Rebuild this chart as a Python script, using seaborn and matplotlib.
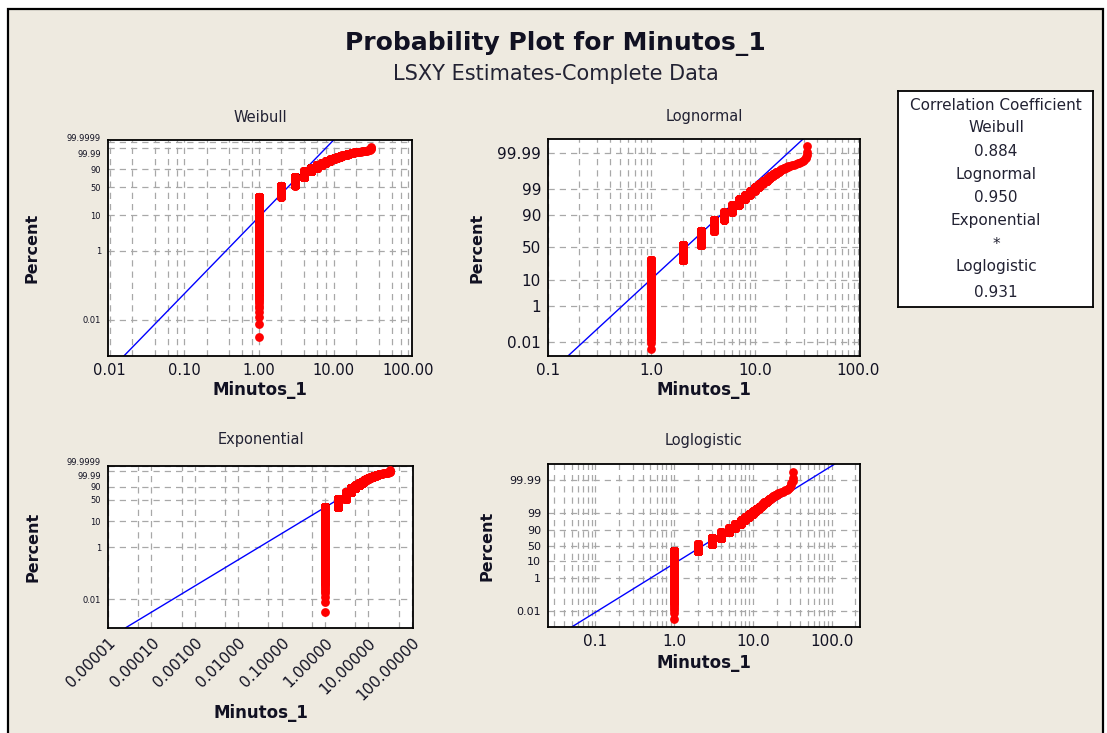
import math
import numpy as np
import pandas as pd
import seaborn as sns
import matplotlib.pyplot as plt
from matplotlib.patches import Rectangle
from matplotlib.transforms import ScaledTranslation
from matplotlib.ticker import FixedLocator, FixedFormatter, LogLocator, NullLocator

# Minutos_1: distinct values and how often each one occurs
minutes = [1, 2, 3, 4, 5, 6, 7, 8, 9, 10, 11, 12, 13, 14, 15, 16,
           17, 18, 19, 20, 21, 22, 23, 24, 25, 26, 27, 28, 29, 30, 31, 32]
counts = [6820, 5060, 4510, 2640, 1210, 770, 374, 220, 132, 88, 55, 33, 24, 18, 11, 9,
          5, 5, 3, 2, 2, 1, 1, 1, 1, 1, 1, 1, 1, 1, 2, 3]

# text of the correlation box
box_lines = ["Correlation Coefficient", "Weibull", "0.884", "Lognormal", "0.950",
             "Exponential", "*", "Loglogistic", "0.931"]

# LSXY fitted lines, read where they meet the frame (Minutos_1, Percent)
weibull_fit_x = [0.0155, 10.0]
weibull_fit_pct = [0.0009, 99.99999]
lognormal_fit_x = [0.156, 29.3]
lognormal_fit_pct = [0.0009, 99.9991]
expo_fit_x = [2.5e-5, 38.0]
expo_fit_pct = [0.00077, 99.99994]
loglog_fit_x = [0.05, 110.0]
loglog_fit_pct = [0.0011, 99.9989]

# tick values and labels
weibull_xticks = [0.01, 0.1, 1, 10, 100]
weibull_xlabels = ["0.01", "0.10", "1.00", "10.00", "100.00"]
weibull_yticks = [0.01, 1, 10, 50, 90, 99.99, 99.9999]
weibull_ylabels = ["0.01", "1", "10", "50", "90", "99.99", "99.9999"]
lognormal_xticks = [0.1, 1, 10, 100]
lognormal_xlabels = ["0.1", "1.0", "10.0", "100.0"]
lognormal_yticks = [0.01, 1, 10, 50, 90, 99, 99.99]
lognormal_ylabels = ["0.01", "1", "10", "50", "90", "99", "99.99"]
expo_xticks = [1e-5, 1e-4, 1e-3, 1e-2, 1e-1, 1, 10, 100]
expo_xlabels = ["0.00001", "0.00010", "0.00100", "0.01000", "0.10000",
                "1.00000", "10.00000", "100.00000"]


# probability scales (input is percent)
def weib_fwd(q):
    p = np.clip(np.asarray(q, float) / 100, 1e-15, 1 - 1e-15)
    return np.log(-np.log1p(-p))


def weib_inv(y):
    return -100 * np.expm1(-np.exp(np.asarray(y, float)))


def logit_fwd(q):
    p = np.clip(np.asarray(q, float) / 100, 1e-15, 1 - 1e-15)
    return np.log(p) - np.log1p(-p)


def logit_inv(y):
    return 100 / (1 + np.exp(-np.asarray(y, float)))


A = [-3.969683028665376e+01, 2.209460984245205e+02, -2.759285104469687e+02,
     1.383577518672690e+02, -3.066479806614716e+01, 2.506628277459239e+00]
B = [-5.447609879822406e+01, 1.615858368580409e+02, -1.556989798598866e+02,
     6.680131188771972e+01, -1.328068155288572e+01, 1.0]
C = [-7.784894002430293e-03, -3.223964580411365e-01, -2.400758237182477e+00,
     -2.549671058064155e+00, 4.374664141464968e+00, 2.938163982698783e+00]
D = [7.784695709041462e-03, 3.224671290700398e-01, 2.445134137142996e+00,
     3.754408661907416e+00, 1.0]


def norm_fwd(q):
    shape = np.shape(q)
    p = np.clip(np.asarray(q, float).ravel() / 100, 1e-15, 1 - 1e-15)
    z = np.empty_like(p)
    lo = p < 0.02425
    hi = p > 1 - 0.02425
    mid = ~(lo | hi)
    r = p[mid] - 0.5
    z[mid] = np.polyval(A, r * r) * r / np.polyval(B, r * r)
    t = np.sqrt(-2 * np.log(p[lo]))
    z[lo] = np.polyval(C, t) / np.polyval(D, t)
    t = np.sqrt(-2 * np.log1p(-p[hi]))
    z[hi] = -np.polyval(C, t) / np.polyval(D, t)
    return z.reshape(shape)


_erfc = np.vectorize(math.erfc)


def norm_inv(z):
    return 50 * _erfc(-np.asarray(z, float) / math.sqrt(2))


# expand the data and compute median-rank plotting positions
x_data = np.repeat(minutes, counts)
n = len(x_data)
pct = (np.arange(1, n + 1) - 0.3) / (n + 0.4) * 100
df = pd.DataFrame({"Minutos_1": x_data, "Percent": pct})

W, H = 1107, 733
sns.set_style("white")
plt.rcParams["font.family"] = ["DejaVu Sans"]
fig = plt.figure(figsize=(W / 100, H / 100), dpi=100, facecolor="white")
fig.add_artist(Rectangle((8 / W, -0.1), (1103 - 8) / W, (H - 9) / H + 0.1,
                         transform=fig.transFigure, facecolor="#EEEAE0",
                         edgecolor="black", lw=1.6, zorder=-5))

fig.text(555 / W, 1 - 43 / H, "Probability Plot for Minutos_1", ha="center", va="center",
         fontsize=18, fontweight="bold", color="#111122")
fig.text(556 / W, 1 - 74 / H, "LSXY Estimates-Complete Data", ha="center", va="center",
         fontsize=15, color="#222233")

panels = [
    # name, frame (l, t, r, b px), scale, xlim, ylim, xticks, xlabels, minor subs,
    # yticks, ylabels, ytick size, xtick size, fit x, fit pct, xlabel y, ylabel x, title y
    ("Weibull", (108, 140, 412, 356), (weib_fwd, weib_inv), (0.0095, 112), (0.0009, 99.99999),
     weibull_xticks, weibull_xlabels, [2, 4, 6, 8], weibull_yticks, weibull_ylabels, 6, 10.5,
     weibull_fit_x, weibull_fit_pct, 390, 32, 117),
    ("Lognormal", (548, 139, 860, 356), (norm_fwd, norm_inv), (0.1, 104), (0.0009, 99.9991),
     lognormal_xticks, lognormal_xlabels, [2, 3, 4, 5, 6, 7, 8, 9], lognormal_yticks,
     lognormal_ylabels, 11, 11, lognormal_fit_x, lognormal_fit_pct, 390, 477, 117),
    ("Exponential", (108, 466, 413, 628), (weib_fwd, weib_inv), (1e-5, 107), (0.00077, 99.99994),
     expo_xticks, expo_xlabels, [5], weibull_yticks, weibull_ylabels, 6, 11,
     expo_fit_x, expo_fit_pct, 713, 33, 439),
    ("Loglogistic", (548, 464, 860, 627), (logit_fwd, logit_inv), (0.025, 230), (0.0011, 99.9989),
     lognormal_xticks, lognormal_xlabels, [2, 3, 4, 5, 6, 7, 8, 9], lognormal_yticks,
     lognormal_ylabels, 8, 11, loglog_fit_x, loglog_fit_pct, 663, 487, 440),
]

for (name, (l, t, r, b), funcs, xlim, ylim, xt, xl, subs, yt, yl, ysize, xsize,
     fx, fp, xlab_y, ylab_x, title_y) in panels:
    ax = fig.add_axes([l / W, 1 - b / H, (r - l) / W, (b - t) / H])
    ax.set_facecolor("white")
    ax.set_xscale("log")
    ax.set_yscale("function", functions=funcs)

    sns.lineplot(x=fx, y=fp, ax=ax, color="#0000FF", lw=1, estimator=None, sort=False, zorder=2)
    sns.scatterplot(data=df, x="Minutos_1", y="Percent", ax=ax, color="#FF0000",
                    s=40, linewidth=0, zorder=3)

    ax.set_xlim(*xlim)
    ax.set_ylim(*ylim)
    ax.xaxis.set_major_locator(FixedLocator(xt))
    ax.xaxis.set_major_formatter(FixedFormatter(xl))
    ax.xaxis.set_minor_locator(LogLocator(base=10, subs=subs, numticks=30))
    ax.yaxis.set_major_locator(FixedLocator(yt))
    ax.yaxis.set_major_formatter(FixedFormatter(yl))
    ax.yaxis.set_minor_locator(NullLocator())
    ax.grid(which="both", axis="x", color="#a8a8a8", ls=(0, (5, 4)), lw=0.9)
    ax.grid(which="major", axis="y", color="#a8a8a8", ls=(0, (5, 4)), lw=0.9)
    ax.set_axisbelow(True)
    ax.tick_params(which="major", direction="out", length=3, width=0.8, color="black",
                   pad=2, labelcolor="#111122")
    ax.tick_params(which="minor", length=0)
    ax.tick_params(axis="y", labelsize=ysize)
    ax.tick_params(axis="x", labelsize=xsize)
    if name == "Exponential":
        for lab in ax.get_xticklabels():
            lab.set_rotation(45)
            lab.set_ha("right")
            lab.set_rotation_mode("anchor")
    # the two top percent labels sit almost on top of each other: pull them apart a little
    for lab in ax.get_yticklabels():
        if lab.get_text() == "99.9999":
            lab.set_transform(lab.get_transform() + ScaledTranslation(0, 3.5 / 72, fig.dpi_scale_trans))
        elif lab.get_text() == "99.99" and "99.9999" in yl:
            lab.set_transform(lab.get_transform() + ScaledTranslation(0, -3.5 / 72, fig.dpi_scale_trans))
    for sp in ax.spines.values():
        sp.set_color("black")
        sp.set_linewidth(1.3)

    h = b - t
    w = r - l
    ax.set_xlabel("Minutos_1", fontsize=12, fontweight="bold", color="#111122")
    ax.xaxis.set_label_coords(0.5, -(xlab_y - b) / h)
    ax.xaxis.label.set_va("center")
    ax.set_ylabel("Percent", fontsize=11.5, fontweight="bold", color="#111122")
    ax.yaxis.set_label_coords(-(l - ylab_x) / w, 0.5)
    ax.yaxis.label.set_va("center")
    ax.text(0.5, 1 + (t - title_y) / h, name, transform=ax.transAxes, ha="center",
            va="center", fontsize=10.5, color="#222233")

# correlation coefficient box
box = fig.add_axes([898 / W, 1 - 307 / H, (1093 - 898) / W, (307 - 91) / H])
box.set_facecolor("white")
box.set_xticks([])
box.set_yticks([])
for sp in box.spines.values():
    sp.set_color("black")
    sp.set_linewidth(1.3)
line_y = [105, 128, 151, 175, 198, 221, 245, 267, 292]
for txt, yy in zip(box_lines, line_y):
    fig.text(996 / W, 1 - yy / H, txt, ha="center", va="center", fontsize=11, color="#222233")

fig.savefig("out.png", dpi=100, facecolor=fig.get_facecolor())
